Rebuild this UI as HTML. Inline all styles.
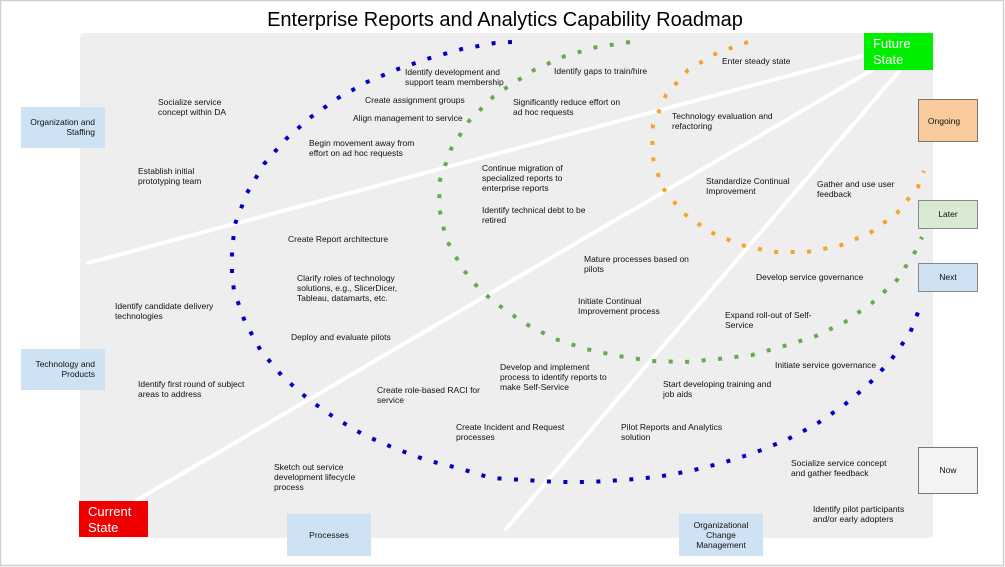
<!DOCTYPE html>
<html><head><meta charset="utf-8"><style>
body{margin:0;background:#fff}
svg{display:block}
text{font-family:"Liberation Sans",Arial,sans-serif;font-size:8.5px;fill:#111}
</style></head><body>
<svg width="1005" height="567" viewBox="0 0 1005 567" xmlns="http://www.w3.org/2000/svg">
<rect x="0.5" y="0.5" width="1003" height="565" fill="#fff" stroke="#d0d0d0" stroke-width="1.5"/>
<text x="505" y="26" text-anchor="middle" style="font-size:20px;fill:#000">Enterprise Reports and Analytics Capability Roadmap</text>
<rect x="80" y="33" width="853" height="505" rx="5" fill="#eeeeee"/>
<!-- white lines -->
<g stroke="#fff" stroke-width="4" stroke-linecap="round">
<line x1="88" y1="263" x2="866" y2="55"/>
<line x1="137" y1="500" x2="872" y2="70"/>
<line x1="506" y1="529" x2="900" y2="70"/>
</g>
<!-- blue arc -->
<polyline fill="none" stroke="#0000c0" stroke-width="4" stroke-dasharray="4 12.5" points="512,42 495,43 462,49 430,58 398,69 367,82 338,98 311,117 286,139 264,164 247,193 235,224 232,250 232,274 234,291 245,322 261,351 283,377 308,399 335,418 364,435 394,448 426,460 458,468 491,478 524,480 557,482 590,482 624,480 657,477 690,471 722,463 754,453 786,440 815,425 843,406 868,385 891,360 910,333 922,302"/>
<!-- green arc -->
<polyline fill="none" stroke="#6aa84f" stroke-width="4" stroke-dasharray="4 12.5" points="630,42 597,47 565,56 534,70 506,88 493,97 469,121 451,149 440,180 439,207 446,239 462,268 480,290 497,304 524,323 555,339 586,349 618,356 652,361 685,362 718,359 752,355 784,346 816,336 845,322 872,303 897,280 915,252 922,237"/>
<!-- orange arc -->
<polyline fill="none" stroke="#f6a32b" stroke-width="4" stroke-dasharray="4 12.5" points="748,42 717,53 688,70 666,95 653,125 652,155 662,187 683,213 710,232 741,245 773,252 807,252 839,246 870,233 897,213 918,187 924,171"/>
<!-- boxes -->
<rect x="21" y="107" width="84" height="41" fill="#cfe2f3"/>
<text x="95" y="125" text-anchor="end">Organization and</text><text x="95" y="135" text-anchor="end">Staffing</text>
<rect x="21" y="349" width="84" height="41" fill="#cfe2f3"/>
<text x="95" y="367" text-anchor="end">Technology and</text><text x="95" y="377" text-anchor="end">Products</text>
<rect x="287" y="514" width="84" height="42" fill="#cfe2f3"/>
<text x="329" y="538" text-anchor="middle">Processes</text>
<rect x="679" y="514" width="84" height="42" fill="#cfe2f3"/>
<text x="721" y="528" text-anchor="middle">Organizational</text><text x="721" y="538" text-anchor="middle">Change</text><text x="721" y="548" text-anchor="middle">Management</text>
<rect x="79" y="501" width="69" height="36" fill="#ee0000"/>
<text x="88" y="516" style="font-size:13px;fill:#fff">Current</text><text x="88" y="532" style="font-size:13px;fill:#fff">State</text>
<rect x="864" y="33" width="69" height="37" fill="#00ee00"/>
<text x="873" y="48" style="font-size:13px;fill:#fff">Future</text><text x="873" y="64" style="font-size:13px;fill:#fff">State</text>
<rect x="918.5" y="99.5" width="59" height="42" fill="#f9cb9c" stroke="#777"/>
<text x="944" y="124" text-anchor="middle">Ongoing</text>
<rect x="918.5" y="200.5" width="59" height="28" fill="#d9ead3" stroke="#888"/>
<text x="948" y="217" text-anchor="middle">Later</text>
<rect x="918.5" y="263.5" width="59" height="28" fill="#cfe2f3" stroke="#888"/>
<text x="948" y="280" text-anchor="middle">Next</text>
<rect x="918.5" y="447.5" width="59" height="46" fill="#f3f3f3" stroke="#777"/>
<text x="948" y="473" text-anchor="middle">Now</text>
<!-- labels -->
<text x="405" y="75">Identify development and</text><text x="405" y="85">support team membership</text>
<text x="365" y="103">Create assignment groups</text>
<text x="353" y="121">Align management to service</text>
<text x="158" y="105">Socialize service</text><text x="158" y="115">concept within DA</text>
<text x="309" y="146">Begin movement away from</text><text x="309" y="156">effort on ad hoc requests</text>
<text x="138" y="174">Establish initial</text><text x="138" y="184">prototyping team</text>
<text x="554" y="74">Identify gaps to train/hire</text>
<text x="513" y="105">Significantly reduce effort on</text><text x="513" y="115">ad hoc requests</text>
<text x="722" y="64">Enter steady state</text>
<text x="672" y="119">Technology evaluation and</text><text x="672" y="129">refactoring</text>
<text x="482" y="171">Continue migration of</text><text x="482" y="181">specialized reports to</text><text x="482" y="191">enterprise reports</text>
<text x="482" y="213">Identify technical debt to be</text><text x="482" y="223">retired</text>
<text x="706" y="184">Standardize Continual</text><text x="706" y="194">Improvement</text>
<text x="817" y="187">Gather and use user</text><text x="817" y="197">feedback</text>
<text x="288" y="242">Create Report architecture</text>
<text x="584" y="262">Mature processes based on</text><text x="584" y="272">pilots</text>
<text x="756" y="280">Develop service governance</text>
<text x="297" y="281">Clarify roles of technology</text><text x="297" y="291">solutions, e.g., SlicerDicer,</text><text x="297" y="301">Tableau, datamarts, etc.</text>
<text x="115" y="309">Identify candidate delivery</text><text x="115" y="319">technologies</text>
<text x="578" y="304">Initiate Continual</text><text x="578" y="314">Improvement process</text>
<text x="725" y="318">Expand roll-out of Self-</text><text x="725" y="328">Service</text>
<text x="291" y="340">Deploy and evaluate pilots</text>
<text x="775" y="368">Initiate service governance</text>
<text x="500" y="370">Develop and implement</text><text x="500" y="380">process to identify reports to</text><text x="500" y="390">make Self-Service</text>
<text x="138" y="387">Identify first round of subject</text><text x="138" y="397">areas to address</text>
<text x="377" y="393">Create role-based RACI for</text><text x="377" y="403">service</text>
<text x="663" y="387">Start developing training and</text><text x="663" y="397">job aids</text>
<text x="456" y="430">Create Incident and Request</text><text x="456" y="440">processes</text>
<text x="621" y="430">Pilot Reports and Analytics</text><text x="621" y="440">solution</text>
<text x="274" y="470">Sketch out service</text><text x="274" y="480">development lifecycle</text><text x="274" y="490">process</text>
<text x="791" y="466">Socialize service concept</text><text x="791" y="476">and gather feedback</text>
<text x="813" y="512">Identify pilot participants</text><text x="813" y="522">and/or early adopters</text>
</svg>
</body></html>
